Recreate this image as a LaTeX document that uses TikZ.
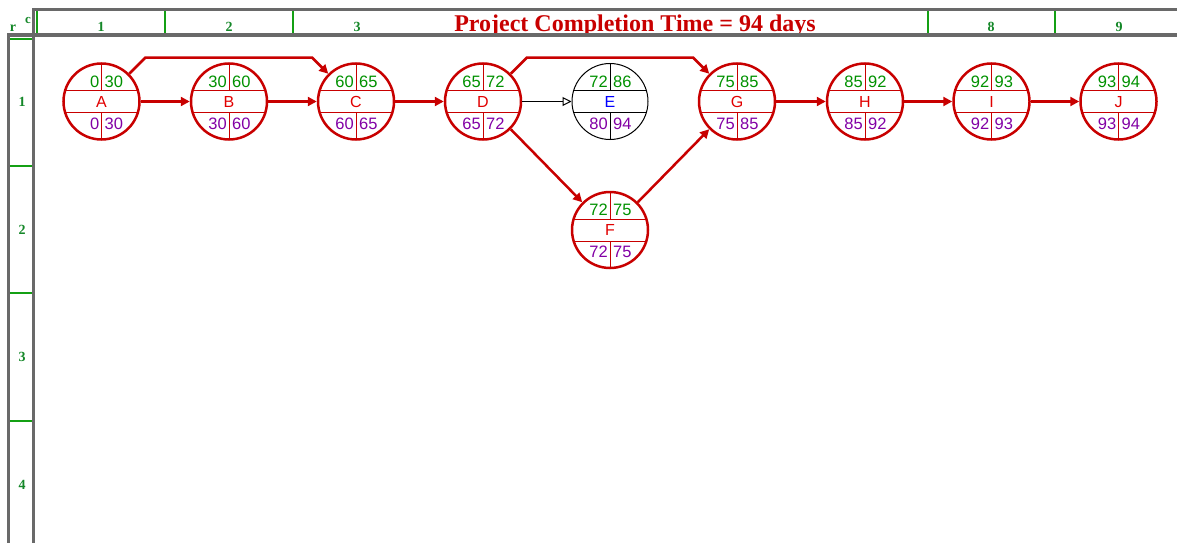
\documentclass[tikz,border=0pt]{standalone}
\usepackage{fontspec}
\setmainfont{Liberation Serif}
\newfontfamily\numfont{Liberation Sans}
\usetikzlibrary{arrows.meta,calc}

\definecolor{gridgray}{RGB}{105,105,105}
\definecolor{gridgreen}{RGB}{20,160,20}
\definecolor{labelgreen}{RGB}{20,135,40}
\definecolor{pertred}{RGB}{200,0,0}
\definecolor{letterred}{RGB}{225,0,0}
\definecolor{numgreen}{RGB}{0,145,0}
\definecolor{numpurple}{RGB}{130,0,165}

\tikzset{
  evcircle/.style={circle, minimum size=76pt, inner sep=0pt},
  critring/.style={draw=pertred, line width=2.5pt},
  freering/.style={draw=black, line width=1pt},
  critinner/.style={draw=pertred, line width=1pt},
  freeinner/.style={draw=black, line width=1pt},
  critletter/.style={text=letterred},
  freeletter/.style={text=blue},
  topnum/.style={inner sep=0pt, text=numgreen, font=\numfont\fontsize{16.5}{16.5}\selectfont},
  botnum/.style={inner sep=0pt, text=numpurple, font=\numfont\fontsize{16.5}{16.5}\selectfont},
  evletter/.style={inner sep=0pt, font=\numfont\fontsize{16}{16}\selectfont},
  critarrow/.style={draw=pertred, line width=2.5pt, -{Triangle[length=9pt,width=9pt]}},
  freearrow/.style={draw=black, line width=1pt, -{Triangle[open,length=9pt,width=9pt]}},
  gridline/.style={draw=gridgray, line width=3.5pt},
  cellline/.style={draw=gridgreen, line width=1.2pt},
  hdrlabel/.style={inner sep=0pt, text=labelgreen, font=\bfseries\fontsize{14}{14}\selectfont},
  titletext/.style={inner sep=0pt, text=pertred, font=\bfseries\fontsize{24}{24}\selectfont},
}

% event circle: name, x, y, letter, ES, EF, LS, LF, kind (crit/free)
\newcommand\pertnode[9]{%
  \begin{scope}[shift={(#2,#3)}]
    \begin{scope}
      \clip (0,0) circle (38);
      \draw[#9inner] (-40,-11) -- (40,-11) (-40,11) -- (40,11)
                     (0,-40) -- (0,-11) (0,11) -- (0,40);
    \end{scope}
    \node[topnum, anchor=base east] at (-2,-14.5) {#5};
    \node[topnum, anchor=base west] at (3,-14.5) {#6};
    \node[botnum, anchor=base east] at (-2,27.5) {#7};
    \node[botnum, anchor=base west] at (3,27.5) {#8};
    \node[evletter, #9letter, anchor=base] at (0,5.5) {#4};
  \end{scope}
  \node[evcircle, #9ring] (#1) at (#2,#3) {};
}

\begin{document}
\begin{tikzpicture}[x=1pt, y=-1pt]
\useasboundingbox (0,0) rectangle (1177,543);

% header cells and row cells
\draw[cellline] (37,11) -- (37,33) (165,11) -- (165,33) (293,11) -- (293,33)
                (928,11) -- (928,33) (1055,11) -- (1055,33);
\draw[cellline] (10,39) -- (32,39) (10,166) -- (32,166)
                (10,293) -- (32,293) (10,421) -- (32,421);

% title (its descenders hide behind the header rule)
\node[titletext, anchor=base] (title) at (635,31.5) {Project Completion Time = 94 days};

% frame rules
\draw[gridline] (33.5,9.5) -- (1177,9.5);
\draw[gridline] (7,35) -- (1177,35);
\draw[gridline] (33.5,8) -- (33.5,543);
\draw[gridline] (8.5,35) -- (8.5,543);

% corner and axis labels
\node[hdrlabel, anchor=base] (rlab) at (13,32) {r};
\node[hdrlabel, anchor=base, font=\bfseries\fontsize{13}{13}\selectfont] (clab) at (28,24) {c};
\node[hdrlabel] (c1) at (101,26.5) {1};
\node[hdrlabel] (c2) at (229,26.5) {2};
\node[hdrlabel] (c3) at (357,26.5) {3};
\node[hdrlabel] (c8) at (991,26.5) {8};
\node[hdrlabel] (c9) at (1119,26.5) {9};
\node[hdrlabel] (r1) at (22,102) {1};
\node[hdrlabel] (r2) at (22,230) {2};
\node[hdrlabel] (r3) at (22,357) {3};
\node[hdrlabel] (r4) at (22,485) {4};

% events
\pertnode{A}{101.5}{101.5}{A}{0}{30}{0}{30}{crit}
\pertnode{B}{229}{101.5}{B}{30}{60}{30}{60}{crit}
\pertnode{C}{356}{101.5}{C}{60}{65}{60}{65}{crit}
\pertnode{D}{483}{101.5}{D}{65}{72}{65}{72}{crit}
\pertnode{E}{610}{101.5}{E}{72}{86}{80}{94}{free}
\pertnode{F}{610}{230}{F}{72}{75}{72}{75}{crit}
\pertnode{G}{737}{101.5}{G}{75}{85}{75}{85}{crit}
\pertnode{H}{865}{101.5}{H}{85}{92}{85}{92}{crit}
\pertnode{I}{991.5}{101.5}{I}{92}{93}{92}{93}{crit}
\pertnode{J}{1118.5}{101.5}{J}{93}{94}{93}{94}{crit}

% activities
\draw[critarrow] (A) -- (B);
\draw[critarrow] (B) -- (C);
\draw[critarrow] (C) -- (D);
\draw[freearrow] (D) -- (E);
\draw[critarrow] (G) -- (H);
\draw[critarrow] (H) -- (I);
\draw[critarrow] (I) -- (J);
\draw[critarrow] (A.45) -- ($(A.45)+(16,-16)$) -- ($(C.135)+(-16,-16)$) -- (C.135);
\draw[critarrow] (D.45) -- ($(D.45)+(16,-16)$) -- ($(G.135)+(-16,-16)$) -- (G.135);
\draw[critarrow] (D.-45) -- (F.135);
\draw[critarrow] (F.45) -- (G.-135);
\end{tikzpicture}
\end{document}
